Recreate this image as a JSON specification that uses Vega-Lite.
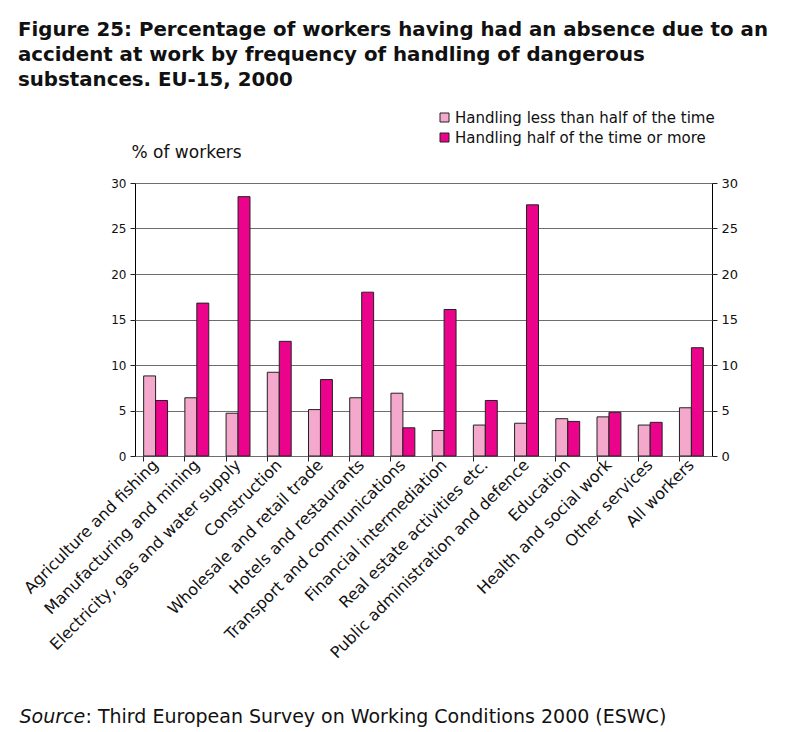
{
  "$schema": "https://vega.github.io/schema/vega-lite/v6.json",
  "width": 577,
  "height": 273,
  "autosize": {"type": "none"},
  "padding": {"left": 135, "top": 183, "right": 73, "bottom": 276},
  "background": "white",
  "title": {
    "text": ["Figure 25: Percentage of workers having had an absence due to an", "accident at work by frequency of handling of dangerous", "substances. EU-15, 2000"],
    "anchor": "start",
    "frame": "group",
    "dx": -117,
    "offset": 20,
    "font": "DejaVu Sans",
    "fontSize": 19.8,
    "fontWeight": "bold",
    "lineHeight": 25,
    "color": "#111"
  },
  "data": {
    "values": [
      {"sector": "Agriculture and fishing", "series": "Handling less than half of the time", "value": 8.8},
      {"sector": "Agriculture and fishing", "series": "Handling half of the time or more", "value": 6.1},
      {"sector": "Manufacturing and mining", "series": "Handling less than half of the time", "value": 6.4},
      {"sector": "Manufacturing and mining", "series": "Handling half of the time or more", "value": 16.8},
      {"sector": "Electricity, gas and water supply", "series": "Handling less than half of the time", "value": 4.7},
      {"sector": "Electricity, gas and water supply", "series": "Handling half of the time or more", "value": 28.5},
      {"sector": "Construction", "series": "Handling less than half of the time", "value": 9.2},
      {"sector": "Construction", "series": "Handling half of the time or more", "value": 12.6},
      {"sector": "Wholesale and retail trade", "series": "Handling less than half of the time", "value": 5.1},
      {"sector": "Wholesale and retail trade", "series": "Handling half of the time or more", "value": 8.4},
      {"sector": "Hotels and restaurants", "series": "Handling less than half of the time", "value": 6.4},
      {"sector": "Hotels and restaurants", "series": "Handling half of the time or more", "value": 18.0},
      {"sector": "Transport and communications", "series": "Handling less than half of the time", "value": 6.9},
      {"sector": "Transport and communications", "series": "Handling half of the time or more", "value": 3.1},
      {"sector": "Financial intermediation", "series": "Handling less than half of the time", "value": 2.8},
      {"sector": "Financial intermediation", "series": "Handling half of the time or more", "value": 16.1},
      {"sector": "Real estate activities etc.", "series": "Handling less than half of the time", "value": 3.4},
      {"sector": "Real estate activities etc.", "series": "Handling half of the time or more", "value": 6.1},
      {"sector": "Public administration and defence", "series": "Handling less than half of the time", "value": 3.6},
      {"sector": "Public administration and defence", "series": "Handling half of the time or more", "value": 27.6},
      {"sector": "Education", "series": "Handling less than half of the time", "value": 4.1},
      {"sector": "Education", "series": "Handling half of the time or more", "value": 3.8},
      {"sector": "Health and social work", "series": "Handling less than half of the time", "value": 4.3},
      {"sector": "Health and social work", "series": "Handling half of the time or more", "value": 4.8},
      {"sector": "Other services", "series": "Handling less than half of the time", "value": 3.4},
      {"sector": "Other services", "series": "Handling half of the time or more", "value": 3.7},
      {"sector": "All workers", "series": "Handling less than half of the time", "value": 5.3},
      {"sector": "All workers", "series": "Handling half of the time or more", "value": 11.9}
    ]
  },
  "config": {
    "view": {"stroke": "#000", "strokeWidth": 1},
    "font": "DejaVu Sans",
    "axis": {"labelFont": "DejaVu Sans", "titleFont": "DejaVu Sans", "labelColor": "#111", "titleColor": "#111", "tickColor": "#222", "domain": false}
  },
  "layer": [
    {
      "mark": {"type": "bar", "stroke": "#222", "strokeWidth": 1},
      "encoding": {
        "x": {
          "field": "sector", "type": "nominal", "sort": null,
          "scale": {"paddingInner": 0.42, "paddingOuter": 0.21},
          "axis": {
            "labelAngle": -45, "labelFontSize": 16, "labelAlign": "right", "labelBaseline": "middle",
            "ticks": false, "labelPadding": 6, "labelLimit": 400,
            "title": ": Third European Survey on Working Conditions 2000 (ESWC)",
            "titleFontSize": 19, "titleFontWeight": "normal", "titleAnchor": null,
            "titleAlign": "left", "titleBaseline": "alphabetic", "titleX": -50, "titleY": 266
          }
        },
        "xOffset": {"field": "series", "type": "nominal", "sort": ["Handling less than half of the time", "Handling half of the time or more"]},
        "y": {
          "field": "value", "type": "quantitative",
          "scale": {"domain": [0, 30], "nice": false},
          "axis": {
            "values": [0, 5, 10, 15, 20, 25, 30], "grid": true, "gridColor": "#6e6e6e", "gridWidth": 1,
            "tickSize": 5, "labelFontSize": 12, "labelPadding": 4,
            "title": "% of workers", "titleAngle": 0, "titleFontSize": 17, "titleFontWeight": "normal",
            "titleAlign": "left", "titleBaseline": "middle", "titleAnchor": null, "titleX": -4, "titleY": -31
          }
        },
        "color": {
          "field": "series", "type": "nominal",
          "sort": ["Handling less than half of the time", "Handling half of the time or more"],
          "scale": {"domain": ["Handling less than half of the time", "Handling half of the time or more"], "range": ["#F4A8CB", "#EC038C"]},
          "legend": {
            "orient": "none", "legendX": 302, "legendY": -73, "title": null,
            "symbolType": "square", "symbolSize": 81, "symbolStrokeColor": "#222", "symbolStrokeWidth": 1,
            "symbolOpacity": 1, "labelFontSize": 15, "labelFont": "DejaVu Sans", "labelColor": "#111",
            "labelLimit": 400, "rowPadding": 4, "labelOffset": 3, "padding": 0
          }
        }
      }
    },
    {
      "mark": {"type": "bar", "opacity": 0},
      "encoding": {
        "x": {
          "field": "sector", "type": "nominal", "sort": null,
          "axis": {
            "orient": "bottom", "bandPosition": 0, "labels": false, "ticks": true, "tickSize": 5, "tickColor": "#222",
            "title": "Source", "titleFontSize": 19, "titleFontWeight": "normal", "titleFontStyle": "italic",
            "titleAnchor": null, "titleAlign": "left", "titleBaseline": "alphabetic", "titleX": -116, "titleY": 266
          }
        },
        "y": {
          "field": "value", "type": "quantitative",
          "axis": {"orient": "right", "values": [0, 5, 10, 15, 20, 25, 30], "grid": false, "tickSize": 5, "labelFontSize": 13, "labelPadding": 4, "title": null}
        }
      }
    }
  ],
  "resolve": {"scale": {"x": "shared", "y": "shared"}, "axis": {"x": "independent", "y": "independent"}}
}
